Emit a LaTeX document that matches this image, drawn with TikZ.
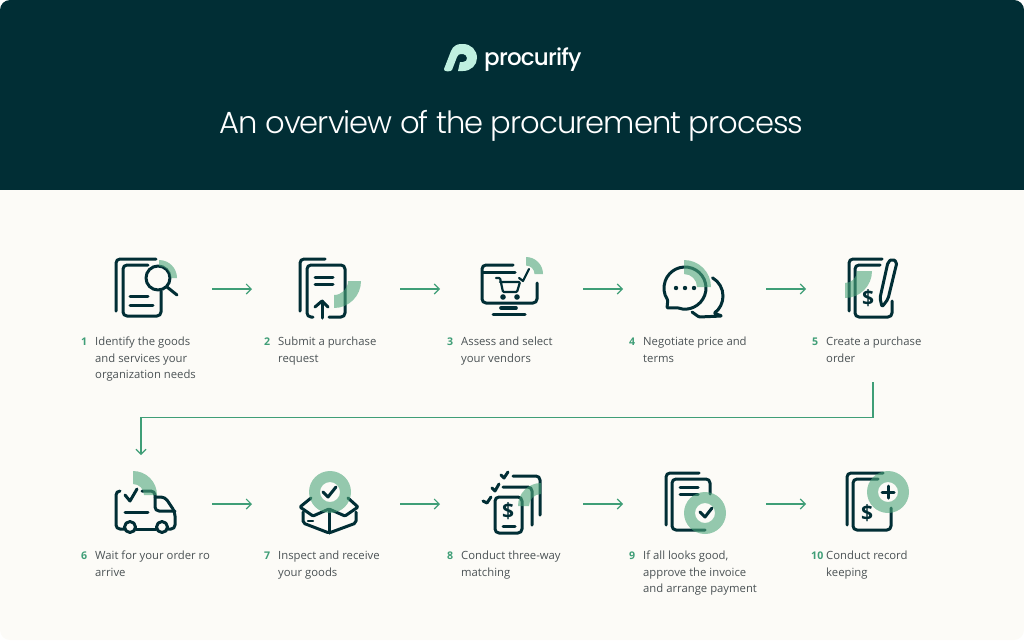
\documentclass[tikz,border=0pt]{standalone}
\usepackage{fontspec}
\setmainfont{Open Sans}
\newfontfamily\titlefont{Poppins}[UprightFont=* Light,LetterSpace=-3.2]
\newfontfamily\logofont{Poppins}[UprightFont=* Medium,LetterSpace=-3.5]
\usetikzlibrary{arrows.meta,positioning}
\definecolor{ink}{HTML}{012E35}
\definecolor{paper}{HTML}{FCFBF7}
\definecolor{mint}{HTML}{BFF0E0}
\definecolor{leaf}{HTML}{3F9E77}
\definecolor{tint}{HTML}{4FA77C}
\definecolor{body}{HTML}{4A5154}
\tikzset{
  icon/.style={draw=ink,line width=3pt,line cap=round,line join=round,rounded corners=4pt},
  flow/.style={draw=leaf,line width=1.1pt,-{Straight Barb[length=5pt,width=10pt]}},
  steplabel/.style={anchor=north west,inner sep=0pt,align=left,text=body,font=\fontsize{11.3}{16.5}\selectfont},
  numlabel/.style={anchor=north west,inner sep=0pt,text=leaf,font=\fontsize{10.6}{16.5}\selectfont\bfseries},
  dollar/.style={inner sep=0pt,text=ink,font=\fontsize{21}{21}\selectfont\bfseries}
}
% quarter band: centre, inner radius, outer radius, start, end
\newcommand{\band}[5]{\fill[tint,opacity=.6,shift={(#1)}] (#4:#2pt) arc[start angle=#4,end angle=#5,radius=#2pt] -- (#5:#3pt) arc[start angle=#5,end angle=#4,radius=#3pt] -- cycle;}
\newcommand{\ring}[1]{\fill[tint,opacity=.6,even odd rule] (#1) circle[radius=21pt] (#1) circle[radius=10pt];}
\begin{document}
\begin{tikzpicture}[x=1pt,y=1pt,yscale=-1]
\useasboundingbox (0,0) rectangle (1024,640);
\fill[paper,rounded corners=10pt] (0,0) rectangle (1024,640);
\fill[ink,rounded corners=10pt] (0,0) -- (1024,0) -- (1024,30) -- (0,30) -- cycle;
\fill[ink] (0,12) rectangle (1024,190);

% header
\fill[mint] (444,69) -- (451,51) .. controls (453,46) and (457,44) .. (461,44) -- (463,44)
  .. controls (471,44) and (477,50) .. (477,58) .. controls (477,65) and (471,71) .. (463,71)
  -- (458,71) -- (460,62) -- (463,62) .. controls (466,62) and (467,60) .. (467,58)
  .. controls (467,56) and (465,54) .. (463,54) -- (461,54) .. controls (459,54) and (458,55) .. (457,57) -- (452,70)
  .. controls (451,72) and (443,72) .. cycle;
\node[inner sep=0pt,anchor=base west,text=white,font=\logofont\fontsize{23}{23}\selectfont] (logo) at (484,65) {procurify};
\node[inner sep=0pt,anchor=base,text=white,font=\titlefont\fontsize{30.6}{32}\selectfont] (title) at (511.5,133) {An overview of the procurement process};

% step 1
\draw[icon] (156,259) -- (116,259) -- (116,311);
\draw[icon] (148,265) -- (123,265) -- (123,316) -- (161,316) -- (161,291);
\draw[icon] (130,296) -- (148,296);
\draw[icon] (130,305) -- (153,305);
\draw[icon] (158,278) circle[radius=12pt];
\draw[icon] (167,287) -- (177,295);
\band{159,278}{12}{18}{-90}{0}
\node[numlabel] (n1) at (81,337.5) {1};
\node[steplabel] (t1) at (95,337) {Identify the goods\\and services your\\organization needs};

% step 2
\draw[icon] (325,259) -- (300,259) -- (300,311);
\draw[icon] (313,317) -- (307,317) -- (307,265) -- (345,265) -- (345,317) -- (329,317);
\draw[icon] (315,277) -- (333,277);
\draw[icon] (315,284) -- (333,284);
\draw[icon,rounded corners=0pt] (322,318) -- (322,301);
\draw[icon,rounded corners=0pt] (315,307) -- (322,301) -- (328,307);
\band{334,281}{14}{27}{0}{90}
\node[numlabel] (n2) at (264,337.5) {2};
\node[steplabel] (t2) at (278,337) {Submit a purchase\\request};

% step 3
\draw[icon] (513,265) -- (482,265) -- (482,303) -- (537,303) -- (537,283);
\draw[icon] (483,272) -- (515,272);
\draw[icon,line width=3.6pt] (501,308) -- (516,308);
\draw[icon] (493,314) -- (525,314);
\draw[icon,line width=2.2pt,rounded corners=1pt] (496,278) -- (500,278) -- (503,292) -- (517,292) -- (520,282) -- (500,282);
\fill[ink] (503,297) circle[radius=2.8pt] (517,297) circle[radius=2.8pt];
\draw[icon,line width=2.2pt,rounded corners=0pt] (519,278) -- (523,281) -- (529,269);
\band{526,274}{8.5}{17}{-90}{0}
\node[numlabel] (n3) at (447,337.5) {3};
\node[steplabel] (t3) at (461,337) {Assess and select\\your vendors};

% step 4
\draw[icon,shift={(685,288)},rounded corners=1pt] (110:21pt) arc[start angle=110,end angle=-215,radius=21pt] -- (-18,20) -- cycle;
\draw[icon,shift={(702,296)},rounded corners=1pt] (-60:21pt) arc[start angle=-60,end angle=55,radius=21pt] -- (20,20) -- (-3,21) -- (-10,16);
\fill[ink] (676,288) circle[radius=2.2pt] (685,288) circle[radius=2.2pt] (694,288) circle[radius=2.2pt];
\band{684,287}{13}{27}{-90}{0}
\node[numlabel] (n4) at (629,337.5) {4};
\node[steplabel] (t4) at (643,337) {Negotiate price and\\terms};

% step 5
\draw[icon] (882,259) -- (849,259) -- (849,311);
\draw[icon] (880,265) -- (855,265) -- (855,317) -- (892,317) -- (892,301);
\draw[icon,rounded corners=2pt] (888,262) -- (892,259) -- (897,262) -- (888,299) -- (882,307) -- (880,298) -- cycle;
\node[dollar] (d5) at (868,298) {\$};
\band{845,271}{12}{27}{0}{90}
\node[numlabel] (n5) at (812,337.5) {5};
\node[steplabel] (t5) at (826,337) {Create a purchase\\order};

% step 6
\draw[icon] (120,491) -- (116,491) -- (116,529) -- (124,529);
\draw[icon] (142,491) -- (155,491) -- (155,511) -- (175,511);
\draw[icon] (155,497) -- (165,497) -- (175,512) -- (175,529) -- (168,529);
\draw[icon] (136,529) -- (156,529);
\draw[icon] (125,512) -- (148,512);
\draw[icon] (130,527) circle[radius=5.5pt];
\draw[icon] (162,527) circle[radius=5.5pt];
\draw[icon,rounded corners=0pt] (125,495) -- (130,501) -- (137,489);
\band{133,495}{11}{24}{-90}{0}
\node[numlabel] (n6) at (81,551.5) {6};
\node[steplabel] (t6) at (95,551) {Wait for your order ro\\arrive};

% step 7
\draw[icon,rounded corners=2pt] (303,512) -- (303,523) -- (329,533) -- (356,523) -- (356,512);
\draw[icon,rounded corners=1pt] (311,498) -- (300,507) -- (313,516) -- (329,509) -- (345,516) -- (358,507) -- (348,498);
\draw[icon] (329,511) -- (329,533);
\draw[icon,line width=2.2pt] (308,521) -- (313,521);
\draw[icon,rounded corners=0pt] (323,492) -- (328,497) -- (336,487);
\ring{330,492}
\node[numlabel] (n7) at (264,551.5) {7};
\node[steplabel] (t7) at (278,551) {Inspect and receive\\your goods};

% step 8
\draw[icon] (513,476) -- (540,476) -- (540,515);
\draw[icon] (503,487) -- (532,487) -- (532,525);
\draw[icon] (495,497) -- (522,497) -- (522,533) -- (495,533) -- cycle;
\draw[icon] (503,526) -- (515,526);
\node[dollar] (d8) at (508,511) {\$};
\draw[icon,rounded corners=0pt] (501,475) -- (504,478) -- (508,472);
\draw[icon,rounded corners=0pt] (492,488) -- (495,491) -- (499,484);
\draw[icon,rounded corners=0pt] (483,501) -- (487,503) -- (491,497);
\band{541,506}{12}{23}{180}{270}
\node[numlabel] (n8) at (447,551.5) {8};
\node[steplabel] (t8) at (461,551) {Conduct three-way\\matching};

% step 9
\draw[icon] (699,473) -- (666,473) -- (666,525);
\draw[icon] (705,530) -- (672,530) -- (672,479) -- (710,479) -- (710,494);
\draw[icon] (680,487) -- (698,487);
\draw[icon] (680,494) -- (698,494);
\draw[icon,rounded corners=0pt] (700,512) -- (705,517) -- (712,508);
\ring{705,513}
\node[numlabel] (n9) at (629,551.5) {9};
\node[steplabel] (t9) at (643,551) {If all looks good,\\approve the invoice\\and arrange payment};

% step 10
\draw[icon] (883,473) -- (847,473) -- (847,525);
\draw[icon] (878,479) -- (853,479) -- (853,530) -- (891,530) -- (891,508);
\node[dollar] (d10) at (867,513) {\$};
\draw[icon,rounded corners=0pt] (882,492) -- (894,492);
\draw[icon,rounded corners=0pt] (888,486) -- (888,498);
\ring{888,492}
\node[numlabel] (n10) at (811,551.5) {10};
\node[steplabel] (t10) at (826,551) {Conduct record\\keeping};

% flow
\coordinate (a1) at (212,289);
\coordinate (b1) at (252,289);
\coordinate (a2) at (400,289);
\coordinate (b2) at (440,289);
\coordinate (a3) at (583,289);
\coordinate (b3) at (623,289);
\coordinate (a4) at (766,289);
\coordinate (b4) at (806,289);
\coordinate (a5) at (873,382);
\coordinate (b5) at (141,455);
\coordinate (a6) at (212,504);
\coordinate (b6) at (252,504);
\coordinate (a7) at (400,504);
\coordinate (b7) at (440,504);
\coordinate (a8) at (583,504);
\coordinate (b8) at (623,504);
\coordinate (a9) at (766,504);
\coordinate (b9) at (806,504);
\draw[flow] (a1) -- (b1);
\draw[flow] (a2) -- (b2);
\draw[flow] (a3) -- (b3);
\draw[flow] (a4) -- (b4);
\draw[flow] (a5) |- (507,417.5) -| (b5);
\draw[flow] (a6) -- (b6);
\draw[flow] (a7) -- (b7);
\draw[flow] (a8) -- (b8);
\draw[flow] (a9) -- (b9);
\end{tikzpicture}
\end{document}
